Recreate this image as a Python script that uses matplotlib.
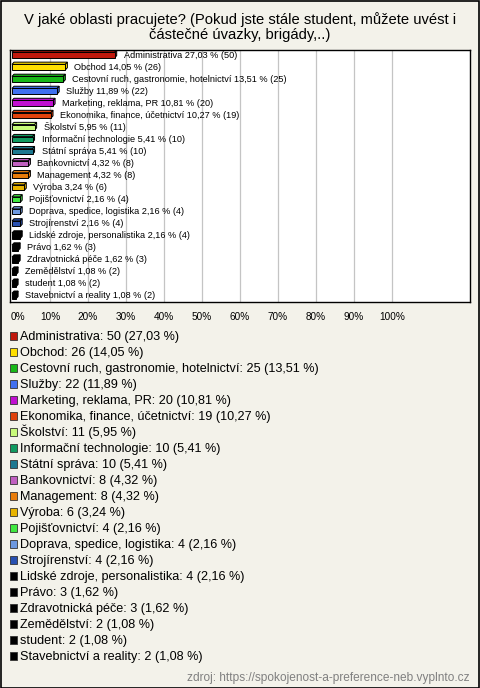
import matplotlib
matplotlib.use("Agg")
import matplotlib.pyplot as plt
from matplotlib.patches import Rectangle, Polygon
from matplotlib.transforms import ScaledTranslation

plt.rcParams['font.family'] = ['Liberation Sans', 'DejaVu Sans']

# data
categories = [
    "Administrativa", "Obchod", "Cestovní ruch, gastronomie, hotelnictví",
    "Služby", "Marketing, reklama, PR", "Ekonomika, finance, účetnictví",
    "Školství", "Informační technologie", "Státní správa", "Bankovnictví",
    "Management", "Výroba", "Pojišťovnictví", "Doprava, spedice, logistika",
    "Strojírenství", "Lidské zdroje, personalistika", "Právo",
    "Zdravotnická péče", "Zemědělství", "student", "Stavebnictví a reality",
]
counts = [50, 26, 25, 22, 20, 19, 11, 10, 10, 8, 8, 6, 4, 4, 4, 4, 3, 3, 2, 2, 2]
percents = [27.03, 14.05, 13.51, 11.89, 10.81, 10.27, 5.95, 5.41, 5.41, 4.32,
            4.32, 3.24, 2.16, 2.16, 2.16, 2.16, 1.62, 1.62, 1.08, 1.08, 1.08]
colors = ["#c0180c", "#ffdf00", "#18b818", "#4070f0", "#c010d0", "#e0420c",
          "#c8fa7a", "#109a60", "#1c7890", "#c060c0", "#e87c0a", "#e8b400",
          "#40e840", "#6c98e0", "#2850b0", "#000000", "#000000", "#000000",
          "#000000", "#000000", "#000000"]
xticks = [0, 10, 20, 30, 40, 50, 60, 70, 80, 90, 100]
title = "V jaké oblasti pracujete? (Pokud jste stále student, můžete uvést i\nčástečné úvazky, brigády,..)"
source = "zdroj: https://spokojenost-a-preference-neb.vyplnto.cz"


def fmt(v):
    return f"{v:.2f}".replace(".", ",")


W, H = 480, 688
bg = "#f3f2ea"
fig = plt.figure(figsize=(W / 100, H / 100), dpi=100, facecolor=bg)

# outer frame
fig.patches.append(Rectangle((0.5 / W, 0.5 / H), 1 - 1.5 / W, 1 - 1.5 / H,
                             transform=fig.transFigure, fill=False,
                             edgecolor="black", lw=1.2))

fig.text(0.5, 1 - 27 / H, title, ha="center", va="center", fontsize=10.6,
         linespacing=1.05)

# bar chart
ax = fig.add_axes([10 / W, 1 - 302 / H, 460 / W, 252 / H])
ax.set_facecolor("white")
ax.set_xlim(-2 / 3.8, 458 / 3.8)
ax.set_ylim(20.5, -0.42)
for t in xticks[1:]:
    ax.axvline(t, color="#c4c4c4", lw=0.9, zorder=0)

h = 0.46
dx = 2 / 3.8      # 3d depth in data units (x)
dy = 2.2 / 12.05  # 3d depth in data units (y)
for i, (p, c) in enumerate(zip(percents, colors)):
    y0 = i - h / 2
    # top face
    ax.add_patch(Polygon([(0, y0), (dx, y0 - dy), (p + dx, y0 - dy), (p, y0)],
                         closed=True, facecolor=c, edgecolor="black", lw=0.7, zorder=2))
    # end face
    ax.add_patch(Polygon([(p, y0), (p + dx, y0 - dy), (p + dx, y0 + h - dy), (p, y0 + h)],
                         closed=True, facecolor=c, edgecolor="black", lw=0.7, zorder=2))
    ax.barh(i, p, height=h, color=c, edgecolor="black", lw=0.7, zorder=3)
    ax.annotate(f"{categories[i]} {fmt(p)} % ({counts[i]})", (p + dx, i),
                xytext=(5, 0), textcoords="offset points", va="center",
                ha="left", fontsize=6.6, zorder=4)

ax.set_yticks([])
ax.set_xticks(xticks)
ax.set_xticklabels([f"{t}%" for t in xticks], fontsize=7.2)
ax.tick_params(axis="x", length=0, pad=7)
first = ax.get_xticklabels()[0]
first.set_horizontalalignment("left")
first.set_transform(first.get_transform() + ScaledTranslation(-1 / 100, 0, fig.dpi_scale_trans))
for s in ax.spines.values():
    s.set_color("black")
    s.set_linewidth(1.0)

# legend list
for i, (cat, cnt, p, c) in enumerate(zip(categories, counts, percents, colors)):
    yc = 336 + 16 * i
    fig.patches.append(Rectangle((9.5 / W, 1 - (yc + 3.8) / H), 7.5 / W, 7.5 / H,
                                 transform=fig.transFigure, facecolor=c,
                                 edgecolor="#333333", lw=0.6))
    fig.text(20 / W, 1 - (yc + 4) / H, f"{cat}: {cnt} ({fmt(p)} %)", ha="left",
             va="baseline", fontsize=9.1)

fig.text(470 / W, 1 - 678 / H, source, ha="right", va="center",
         fontsize=8.6, color="#808080")

fig.savefig("out.png", dpi=100, facecolor=bg)
